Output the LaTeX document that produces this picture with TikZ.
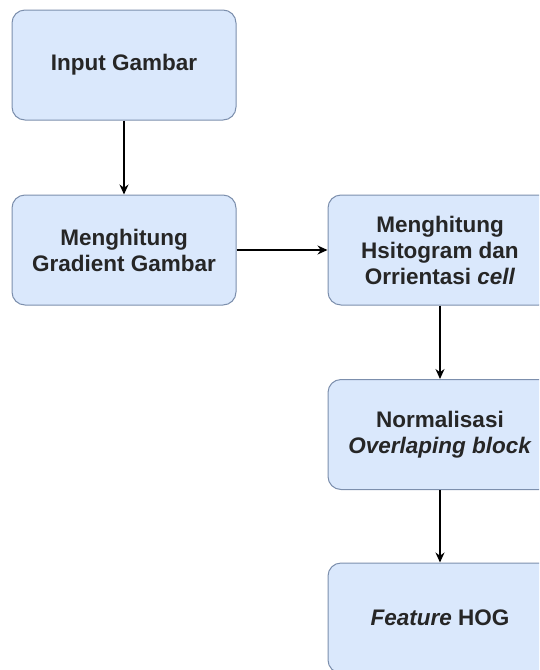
\documentclass[tikz,border=0pt]{standalone}
\usepackage{fontspec}
\setmainfont{Liberation Sans}
\usepackage{tikz}
\usetikzlibrary{arrows.meta, positioning}
\definecolor{boxfill}{HTML}{DAE8FC}
\definecolor{boxline}{HTML}{7C8FAD}
\definecolor{boxtext}{HTML}{262626}
\tikzset{
  flowbox/.style   = {rectangle, rounded corners=13pt, draw=boxline, fill=boxfill,
                      line width=1pt, minimum width=224pt, minimum height=110pt,
                      align=center, inner sep=2pt, text=boxtext,
                      font=\fontsize{22.5}{26}\selectfont\bfseries},
  flowarrow/.style = {draw=black, line width=1.3pt,
                      -{Stealth[length=10pt, width=9pt]}},
}

\begin{document}
\begin{tikzpicture}[x=1pt, y=1pt]
    \useasboundingbox (0,0) rectangle (539,-670);
    \clip (0,0) rectangle (539,-670);
    \node[flowbox] (input) at (124,-65) {Input Gambar};
    \node[flowbox] (grad) at (124,-250) {Menghitung\\Gradient Gambar};
    \node[flowbox] (hist) at (440,-250) {Menghitung\\Hsitogram dan\\Orrientasi \textit{cell}};
    \node[flowbox] (norm) at (440,-434.5) {Normalisasi\\\textit{Overlaping block}};
    \node[flowbox] (feat) at (440,-618) {\textit{Feature} HOG};
    \draw[flowarrow] (input) -- (grad);
    \draw[flowarrow] (grad) -- (hist);
    \draw[flowarrow] (hist) -- (norm);
    \draw[flowarrow] (norm) -- (feat);
  \end{tikzpicture}
\end{document}
